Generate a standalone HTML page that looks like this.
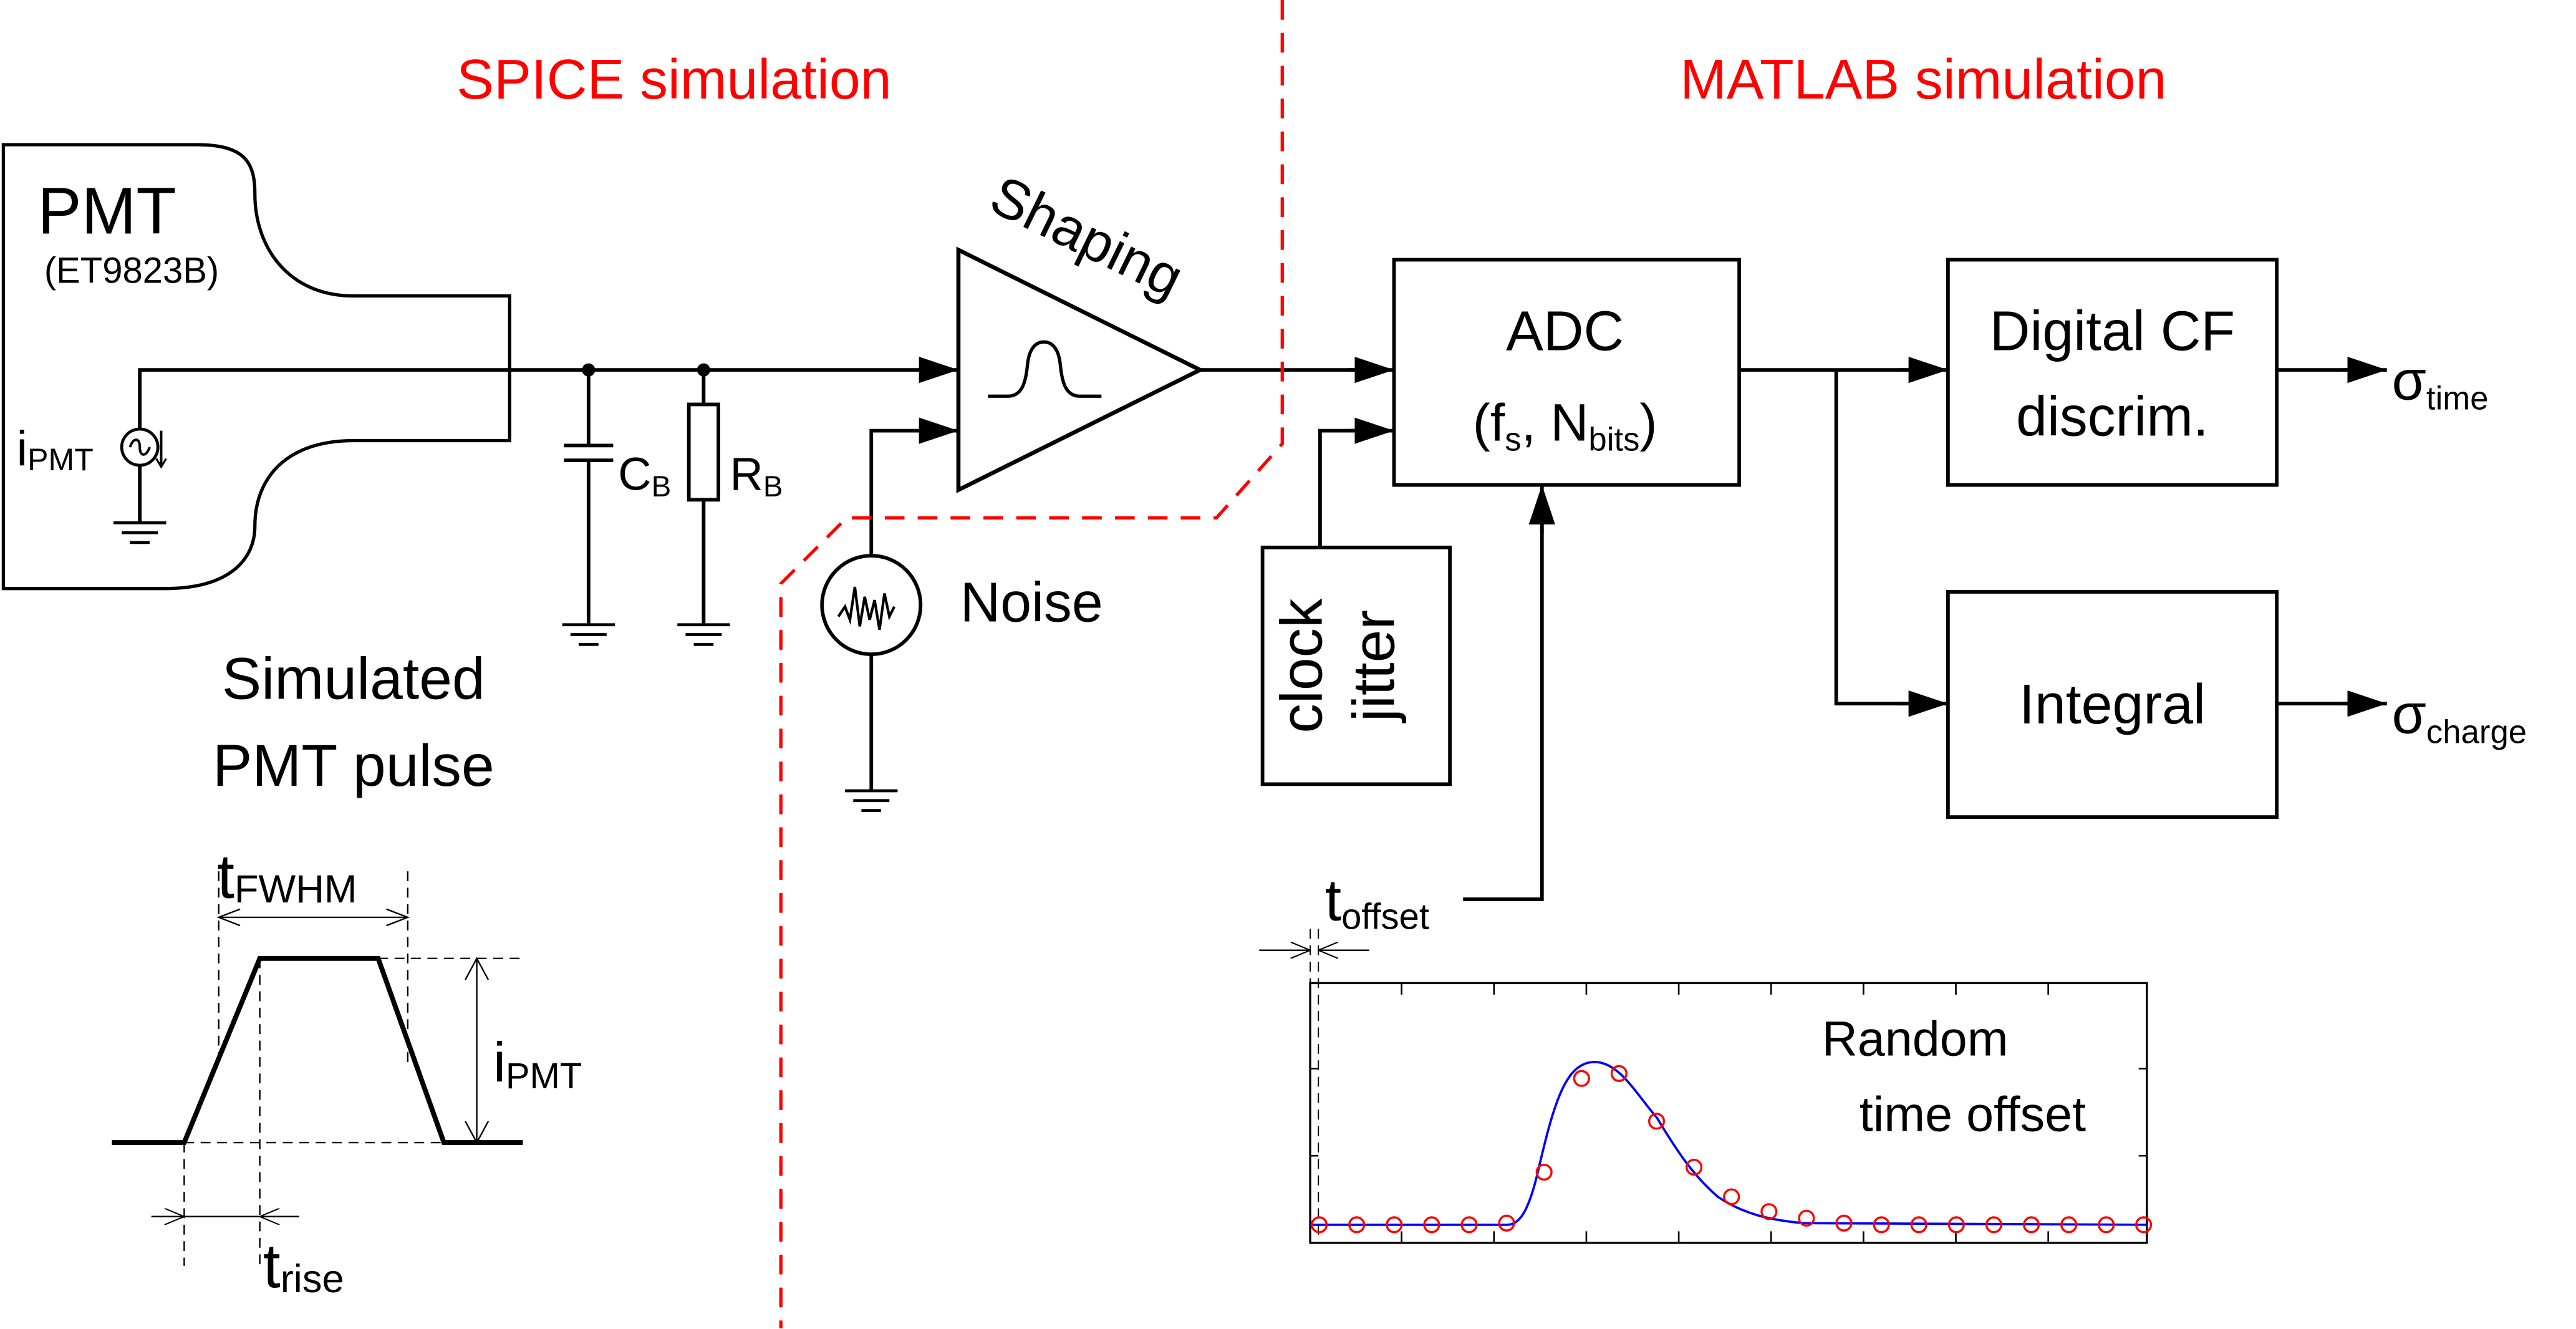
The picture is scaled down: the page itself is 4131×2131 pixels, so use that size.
<!DOCTYPE html>
<html><head><meta charset="utf-8"><style>
html,body{margin:0;padding:0;background:#fff;}
svg{display:block;}
text{font-family:"Liberation Sans",sans-serif;}
</style></head><body>
<svg width="4131" height="2131" viewBox="0 0 1567 808.4" xmlns="http://www.w3.org/2000/svg">
<defs>
<marker id="al" markerWidth="24" markerHeight="16" refX="24" refY="8" orient="auto" markerUnits="userSpaceOnUse"><path d="M0,0 L24,8 L0,16 Z" fill="#000"/></marker>
<marker id="o" markerWidth="12" markerHeight="10" refX="12" refY="5" orient="auto" markerUnits="userSpaceOnUse"><path d="M0,0 L12,5 L0,10" fill="none" stroke="#000" stroke-width="0.8"/></marker>
</defs>
<rect width="1567" height="808.4" fill="#fff"/>
<g fill="none" stroke="#000" stroke-width="2.2">
<path d="M2,88 L120,88 C150,88 155,100 155,118 C155,150 175,180 215,180 L310,180 L310,268 L215,268 C175,268 155,290 155,320 C155,340 140,358 100,358 L2,358 Z" stroke-width="2"/>
<path d="M85,261 L85,225 L560,225" />
<path d="M560,225 L583,225" marker-end="url(#al)"/>
<circle cx="85" cy="272" r="11" stroke-width="1.8"/>
<path d="M79,272 c2,-6 6,-6 6,0 c0,6 4,6 6,0" stroke-width="1.5"/>
<path d="M98,262 L98,283" stroke-width="1.5"/>
<path d="M95,279 L98,284 L101,279" stroke-width="1.2"/>
<path d="M85,283 L85,318"/>
<g stroke-width="1.8">
<path d="M69,318 h32 M74,324 h22 M79,330 h12"/>
<path d="M342,380 h32 M347,386 h22 M352,392 h12"/>
<path d="M412,380 h32 M417,386 h22 M422,392 h12"/>
<path d="M514,481 h32 M519,487 h22 M524,493 h12"/>
</g>
<path d="M358,225 L358,271 M343,271 h30 M343,280 h30 M358,280 L358,380"/>
<path d="M428,225 L428,246 M428,304 L428,380"/>
<rect x="419" y="246" width="18" height="58"/>
<path d="M583,152 L583,298 L730,225 Z" stroke-width="2.5" stroke-linejoin="miter"/>
<path d="M601,241 H613 C622,241 624,232 625,222 C626,212 630,208 635,208 C640,208 644,212 645,222 C646,232 648,241 657,241 H670" stroke-width="2"/>
<path d="M530,338 L530,262 L560,262"/>
<path d="M560,262 L583,262" marker-end="url(#al)"/>
<circle cx="530" cy="368" r="30"/>
<path d="M510,375 l4,-6 l3,8 l3,-20 l3,24 l3,-18 l3,14 l3,-12 l3,18 l3,-22 l3,14 l3,-6" stroke-width="1.6"/>
<path d="M530,398 L530,481"/>
<path d="M730,225 L825,225"/>
<path d="M820,225 L848,225" marker-end="url(#al)"/>
<rect x="848" y="158" width="210" height="137"/>
<rect x="768" y="333" width="114" height="144"/>
<path d="M803,333 L803,262 L825,262"/>
<path d="M820,262 L848,262" marker-end="url(#al)"/>
<path d="M890,547 L938,547 L938,320"/>
<path d="M938,325 L938,295" marker-end="url(#al)"/>
<path d="M1058,225 L1160,225"/>
<path d="M1155,225 L1185,225" marker-end="url(#al)"/>
<path d="M1117,225 L1117,428 L1160,428"/>
<path d="M1155,428 L1185,428" marker-end="url(#al)"/>
<rect x="1185" y="158" width="200" height="137"/>
<rect x="1185" y="360" width="200" height="137"/>
<path d="M1385,225 L1430,225"/>
<path d="M1425,225 L1452,225" marker-end="url(#al)"/>
<path d="M1385,428 L1430,428"/>
<path d="M1425,428 L1452,428" marker-end="url(#al)"/>
<path d="M68,695 L112,695 L158,583 L230,583 L270,695 L318,695" stroke-width="3"/>
</g>
<g fill="#000" stroke="none">
<circle cx="358" cy="225" r="4"/><circle cx="428" cy="225" r="4"/>
</g>
<g fill="none" stroke="#000" stroke-width="0.9" stroke-dasharray="6,4">
<path d="M160,583 H318"/>
<path d="M112,695 H290"/>
<path d="M112,695 V770"/>
<path d="M158,583 V772"/>
<path d="M133,530 V650"/>
<path d="M248,530 V650"/>
<path d="M797,565 V755 M802,565 V755" stroke-width="0.7"/>
</g>
<g fill="none" stroke="#000" stroke-width="0.9">
<path d="M133,558 H248"/>
<path d="M290,583 V695"/>
<path d="M92,740 H112" marker-end="url(#o)"/>
<path d="M182,740 H158" marker-end="url(#o)"/>
<path d="M112,740 H158"/>
<path d="M766,578 H797" marker-end="url(#o)"/>
<path d="M833,578 H802" marker-end="url(#o)"/>
<path d="M146,553 L133,558 L146,563 M235,553 L248,558 L235,563 M283,596 L290,583 L297,596 M283,682 L290,695 L297,682"/>
</g>
<path d="M780,0 L780,270 L740,315 L515,315 L475,355 L475,808" fill="none" stroke="#f00" stroke-width="2" stroke-dasharray="12,8"/>
<g fill="none" stroke="#000" stroke-width="1.3">
<rect x="797" y="598" width="509" height="158"/>
<g stroke-width="1">
<path d="M852.6,598 v7 M908.8,598 v7 M965,598 v7 M1021.2,598 v7 M1077.4,598 v7 M1133.6,598 v7 M1189.8,598 v7 M1246,598 v7"/>
<path d="M852.6,756 v-7 M908.8,756 v-7 M965,756 v-7 M1021.2,756 v-7 M1077.4,756 v-7 M1133.6,756 v-7 M1189.8,756 v-7 M1246,756 v-7"/>
<path d="M797,650 h5 M797,703 h5 M1306,650 h-5 M1306,703 h-5"/>
</g>
</g>
<path d="M797,745 L917,745 C925,745 930,735 935,715 C945,672 952,646 970,646 C985,646 995,665 1008,680 C1020,700 1030,715 1045,728 C1060,738 1075,742 1097,744 L1306,745" fill="none" stroke="#00f" stroke-width="1.4"/>
<g fill="none" stroke="#f00" stroke-width="1.3">
<circle cx="802.5" cy="745" r="4.5"/><circle cx="825.3" cy="745" r="4.5"/><circle cx="848.1" cy="745" r="4.5"/><circle cx="870.9" cy="745" r="4.5"/><circle cx="893.7" cy="745" r="4.5"/><circle cx="916.5" cy="744" r="4.5"/><circle cx="939.3" cy="713" r="4.5"/><circle cx="962.1" cy="656" r="4.5"/><circle cx="984.9" cy="653" r="4.5"/><circle cx="1007.7" cy="682" r="4.5"/><circle cx="1030.5" cy="710" r="4.5"/><circle cx="1053.3" cy="728" r="4.5"/><circle cx="1076.1" cy="737" r="4.5"/><circle cx="1098.9" cy="741" r="4.5"/><circle cx="1121.7" cy="744" r="4.5"/><circle cx="1144.5" cy="745" r="4.5"/><circle cx="1167.3" cy="745" r="4.5"/><circle cx="1190.1" cy="745" r="4.5"/><circle cx="1212.9" cy="745" r="4.5"/><circle cx="1235.7" cy="745" r="4.5"/><circle cx="1258.5" cy="745" r="4.5"/><circle cx="1281.3" cy="745" r="4.5"/><circle cx="1304" cy="745" r="4.5"/>
</g>
<g fill="#f00" font-size="34" text-anchor="middle">
<text x="410" y="60">SPICE simulation</text>
<text x="1170" y="60">MATLAB simulation</text>
</g>
<g fill="#000">
<text x="65" y="142" font-size="40" text-anchor="middle">PMT</text>
<text x="80" y="172" font-size="22" text-anchor="middle">(ET9823B)</text>
<text x="10" y="283" font-size="30">i<tspan font-size="19" dy="3">PMT</tspan></text>
<text x="376" y="298" font-size="28">C<tspan font-size="18" dy="4">B</tspan></text>
<text x="444" y="298" font-size="28">R<tspan font-size="18" dy="4">B</tspan></text>
<text x="0" y="0" font-size="34" transform="translate(600,127) rotate(26)">Shaping</text>
<text x="584" y="378" font-size="34">Noise</text>
<text x="952" y="213" font-size="34" text-anchor="middle">ADC</text>
<text x="952" y="268" font-size="32" text-anchor="middle">(f<tspan font-size="20" dy="6">s</tspan><tspan dy="-6">, N</tspan><tspan font-size="20" dy="6">bits</tspan><tspan dy="-6">)</tspan></text>
<text x="0" y="0" font-size="36" text-anchor="middle" transform="translate(804,405) rotate(-90)">clock</text>
<text x="0" y="0" font-size="36" text-anchor="middle" transform="translate(848,405) rotate(-90)">jitter</text>
<text x="1285" y="213" font-size="34" text-anchor="middle">Digital CF</text>
<text x="1285" y="265" font-size="34" text-anchor="middle">discrim.</text>
<text x="1285" y="440" font-size="34" text-anchor="middle">Integral</text>
<text x="1455" y="243" font-size="34">σ<tspan font-size="20" dy="6">time</tspan></text>
<text x="1455" y="446" font-size="34">σ<tspan font-size="20" dy="6">charge</tspan></text>
<text x="215" y="425" font-size="36" text-anchor="middle">Simulated</text>
<text x="215" y="478" font-size="36" text-anchor="middle">PMT pulse</text>
<text x="132" y="546" font-size="38">t<tspan font-size="24" dy="3">FWHM</tspan></text>
<text x="300" y="658" font-size="34">i<tspan font-size="22" dy="4">PMT</tspan></text>
<text x="160" y="783" font-size="38">t<tspan font-size="24" dy="3">rise</tspan></text>
<text x="806" y="560" font-size="36">t<tspan font-size="22" dy="5">offset</tspan></text>
<text x="1165" y="642" font-size="30" text-anchor="middle">Random</text>
<text x="1200" y="688" font-size="30" text-anchor="middle">time offset</text>
</g>
</svg>
</body></html>
